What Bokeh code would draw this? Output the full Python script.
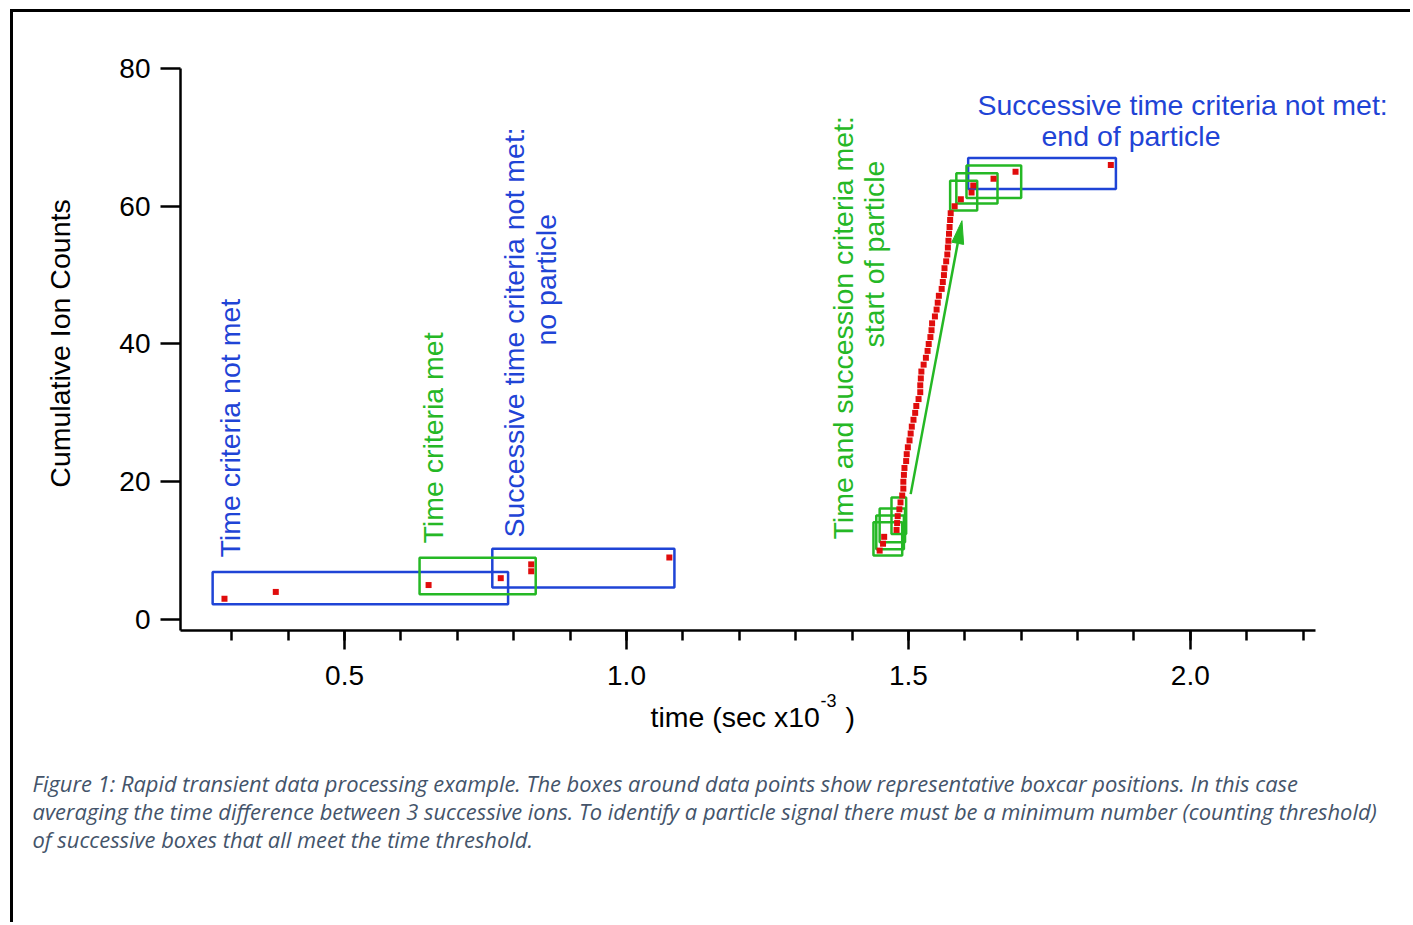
import math
from bokeh.plotting import figure
from bokeh.models import Range1d, FixedTicker, Label
from bokeh.embed import file_html
from bokeh.resources import INLINE

# ---------------- data ----------------
time_ms = [0.287, 0.378, 0.649, 0.777, 0.831, 0.831, 1.076,
           1.449, 1.455, 1.457, 1.479, 1.480, 1.481, 1.484, 1.486, 1.489, 1.491,
           1.491, 1.492, 1.493, 1.496, 1.497, 1.499, 1.502, 1.504, 1.506, 1.509,
           1.512, 1.514, 1.518, 1.521, 1.521, 1.522, 1.523, 1.527, 1.531, 1.534,
           1.536, 1.539, 1.541, 1.542, 1.547, 1.550, 1.552, 1.554, 1.559, 1.561,
           1.563, 1.564, 1.567, 1.569, 1.570, 1.571, 1.572, 1.573, 1.574, 1.575,
           1.582, 1.593, 1.612, 1.615, 1.651, 1.690, 1.859]
ion_counts = [3, 4, 5, 6, 7, 8, 9,
              10, 11, 12, 13, 14, 15, 16, 17, 18, 19,
              20, 21, 22, 23, 24, 25, 26, 27, 28, 29,
              30, 31, 32, 33, 34, 35, 36, 37, 38, 39,
              40, 41, 42, 43, 44, 45, 46, 47, 48, 49,
              50, 51, 52, 53, 54, 55, 56, 57, 58, 59,
              60, 61, 62, 63, 64, 65, 66]

blue_left = [0.266, 0.762, 1.606]
blue_right = [0.790, 1.085, 1.868]
blue_bottom = [2.2, 4.64, 62.5]
blue_top = [6.9, 10.26, 67.0]

green_left = [0.633, 1.438, 1.443, 1.449, 1.470, 1.574, 1.585, 1.603]
green_right = [0.839, 1.489, 1.492, 1.494, 1.496, 1.622, 1.658, 1.700]
green_bottom = [3.67, 9.3, 10.2, 11.2, 12.4, 59.4, 60.4, 61.2]
green_top = [8.95, 14.1, 15.1, 16.1, 17.7, 63.7, 64.8, 65.9]

arrow_start = (1.504, 18.2)
arrow_end = (1.595, 57.9)

y_ticks = [0, 20, 40, 60, 80]
x_major = [0.5, 1.0, 1.5, 2.0]
x_major_labels = ["0.5", "1.0", "1.5", "2.0"]
x_minor = [0.3, 0.4, 0.5, 0.6, 0.7, 0.8, 0.9, 1.0, 1.1, 1.2, 1.3, 1.4,
           1.5, 1.6, 1.7, 1.8, 1.9, 2.0, 2.1, 2.2]
x_axis_min, x_axis_max = 0.209, 2.222
y_axis_min, y_axis_max = -1.6, 80.0

y_title = "Cumulative Ion Counts"
x_title_main = "time (sec x10"
x_title_sup = "-3"
x_title_end = ")"

caption_lines = [
    "Figure 1: Rapid transient data processing example. The boxes around data points show representative boxcar positions. In this case",
    "averaging the time difference between 3 successive ions. To identify a particle signal there must be a minimum number (counting threshold)",
    "of successive boxes that all meet the time threshold.",
]

# ---------------- style / layout ----------------
BLUE = "#1f44d6"
GREEN = "#25b825"
RED = "#e00c0c"
CAPTION = "#44546a"
FONT = "Liberation Sans"

FL, FR, FT, FB = 180, 1315, 68, 630   # axis box in page pixels
CX, CY = 13, 12                        # canvas origin in page pixels
W, H = 1400, 913

def dx(px):
    return x_axis_min + (px - FL) * (x_axis_max - x_axis_min) / (FR - FL)

def dy(py):
    return y_axis_max - (py - FT) * (y_axis_max - y_axis_min) / (FB - FT)

p = figure(width=W, height=H,
           x_range=Range1d(dx(CX), dx(CX + W)),
           y_range=Range1d(dy(CY + H), dy(CY)),
           output_backend="svg", toolbar_location=None,
           min_border_left=0, min_border_right=0,
           min_border_top=0, min_border_bottom=0)
p.styles = {"border-left": "3px solid black", "border-top": "3px solid black",
            "margin-left": "10px", "margin-top": "9px"}
p.outline_line_color = None
p.xgrid.visible = False
p.ygrid.visible = False
p.background_fill_color = "white"
p.border_fill_color = "white"

# y axis
ya = p.yaxis[0]
ya.fixed_location = x_axis_min
ya.bounds = (y_axis_min, y_axis_max)
ya.ticker = FixedTicker(ticks=y_ticks, minor_ticks=[])
ya.axis_line_width = 2.5
ya.major_tick_line_width = 2.5
ya.major_tick_out = 20
ya.major_tick_in = 0
ya.minor_tick_out = 0
ya.minor_tick_in = 0
ya.major_label_text_font = FONT
ya.major_label_text_font_size = "28px"
ya.major_label_text_color = "black"
ya.major_label_standoff = 10
ya.axis_label = None

# x axis
xa = p.xaxis[0]
xa.fixed_location = y_axis_min
xa.bounds = (x_axis_min, x_axis_max)
xa.ticker = FixedTicker(ticks=x_major, minor_ticks=x_minor)
xa.major_label_overrides = {t: s for t, s in zip(x_major, x_major_labels)}
xa.axis_line_width = 2.5
xa.major_tick_line_width = 2.5
xa.minor_tick_line_width = 2.5
xa.major_tick_out = 19
xa.major_tick_in = 0
xa.minor_tick_out = 10
xa.minor_tick_in = 0
xa.major_label_text_font = FONT
xa.major_label_text_font_size = "28px"
xa.major_label_text_color = "black"
xa.major_label_standoff = 16

# boxes
p.quad(left=blue_left, right=blue_right, bottom=blue_bottom, top=blue_top,
       fill_alpha=0, line_color=BLUE, line_width=2.5)
p.quad(left=green_left, right=green_right, bottom=green_bottom, top=green_top,
       fill_alpha=0, line_color=GREEN, line_width=2.5)

# points
p.scatter(time_ms, ion_counts, marker="square", size=6, fill_color=RED,
          line_color=None)

# arrow (line + narrow head)
sx = (FR - FL) / (x_axis_max - x_axis_min)
sy = (FB - FT) / (y_axis_max - y_axis_min)
vx = (arrow_end[0] - arrow_start[0]) * sx
vy = (arrow_end[1] - arrow_start[1]) * sy
n = math.hypot(vx, vy)
ux, uy = vx / n, vy / n
head_len, head_half = 23, 6
bx = arrow_end[0] - head_len * ux / sx
by = arrow_end[1] - head_len * uy / sy
px_, py_ = -uy, ux
p.segment(x0=[arrow_start[0]], y0=[arrow_start[1]], x1=[bx], y1=[by],
          line_color=GREEN, line_width=2.5)
p.patch([arrow_end[0], bx + head_half * px_ / sx, bx - head_half * px_ / sx],
        [arrow_end[1], by + head_half * py_ / sy, by - head_half * py_ / sy],
        fill_color=GREEN, line_color=GREEN, line_width=1)

# texts (anchor = centre of the text line)
def add_text(text, px, py, color, angle=0.0, size="28.5px", font=FONT,
             style="normal", align="left"):
    p.add_layout(Label(x=dx(px), y=dy(py), text=text, angle=angle,
                       text_align=align, text_baseline="alphabetic",
                       text_font=font, text_font_size=size,
                       text_font_style=style, text_color=color))

vert = math.pi / 2
add_text(y_title, 59, 343, "black", vert, align="center")
add_text("Time criteria not met", 229, 557, BLUE, vert)
add_text("Time criteria met", 432, 543, GREEN, vert)
add_text("Successive time criteria not met:", 513, 537, BLUE, vert)
add_text("no particle", 545, 345, BLUE, vert)
add_text("Time and succession criteria met:", 842, 539, GREEN, vert)
add_text("start of particle", 873, 347, GREEN, vert)
add_text("Successive time criteria not met:", 977, 104, BLUE)
add_text("end of particle", 1041, 135, BLUE)

# x axis title with superscript
add_text(x_title_main, 650, 716, "black")
add_text(x_title_sup, 820, 700, "black", size="18px")
add_text(x_title_end, 845, 716, "black")

# caption
for i, line in enumerate(caption_lines):
    add_text(line, 32, 782.5 + 28.4 * i, CAPTION, size="21.9px",
             font="Open Sans", style="italic")

open("out.html", "w").write(file_html(p, INLINE))
